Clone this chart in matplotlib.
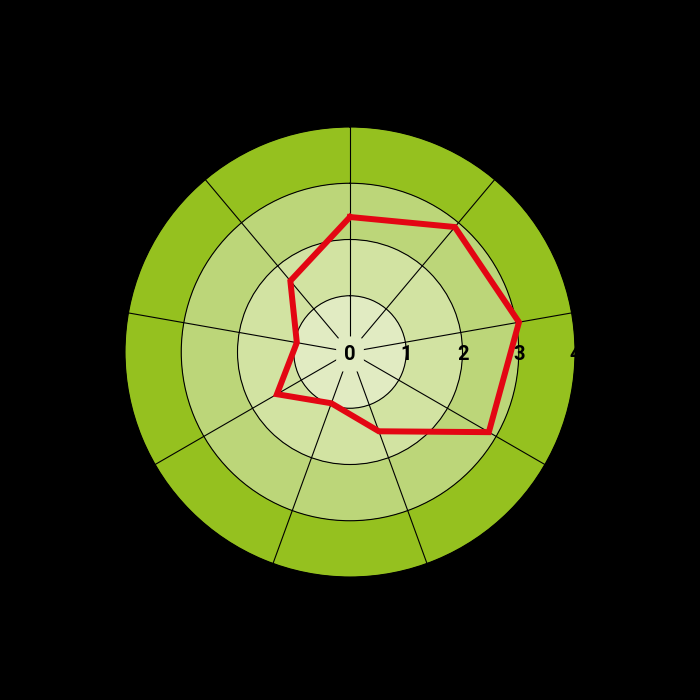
import numpy as np
import matplotlib
matplotlib.use("Agg")
import matplotlib.pyplot as plt
import matplotlib.transforms as mtransforms

# data
n_axes = 9
values = [2.4, 2.9, 3.05, 2.85, 1.5, 0.97, 1.5, 0.96, 1.65]
ring_levels = [0, 1, 2, 3, 4]
ring_colors = ["#e1ebc2", "#d2e3a2", "#bcd679", "#95c11f"]
tick_labels = ["0", "1", "2", "3", "4"]

fig = plt.figure(figsize=(7, 7), dpi=100)
fig.patch.set_facecolor("black")

R = 225 / 700
cx, cy = 350 / 700, (700 - 352) / 700
ax = fig.add_axes([cx - R, cy - R, 2 * R, 2 * R], projection="polar")
ax.set_facecolor("black")
ax.set_theta_offset(np.pi / 2)
ax.set_theta_direction(-1)

# bands
for i, c in enumerate(ring_colors):
    ax.bar(0, ring_levels[i + 1] - ring_levels[i], width=2 * np.pi,
           bottom=ring_levels[i], color=c, edgecolor="none", zorder=0, align="edge")

ax.set_ylim(0, 4)
angles = np.arange(n_axes) * 2 * np.pi / n_axes
ax.set_xticks(angles)
ax.set_xticklabels([""] * n_axes)
ax.set_yticks([1, 2, 3])
ax.set_yticklabels([])
ax.grid(True, color="black", linewidth=0.8)
ax.spines["polar"].set_color("black")
ax.spines["polar"].set_linewidth(0.8)
ax.set_axisbelow(False)

# data polygon
th = np.concatenate([angles, angles[:1]])
vals = values + values[:1]
ax.plot(th, vals, color="#e30613", linewidth=4.3, zorder=5, solid_joinstyle="miter")

# radial tick labels along the right horizontal
shifted = mtransforms.offset_copy(ax.transData, fig=fig, x=0, y=-2, units="dots")
for lv, lab in zip(ring_levels, tick_labels):
    kw = {}
    if lv == 0:
        kw["bbox"] = dict(boxstyle="round,pad=0.4", facecolor=ring_colors[0], edgecolor="none")
    ax.text(np.pi / 2, lv, lab, ha="center", va="center", fontsize=14.5,
            fontweight="bold", color="black", zorder=6, clip_on=False,
            family=["Roboto", "DejaVu Sans"], transform=shifted, **kw)

fig.savefig("out.png", dpi=100, facecolor=fig.get_facecolor())
